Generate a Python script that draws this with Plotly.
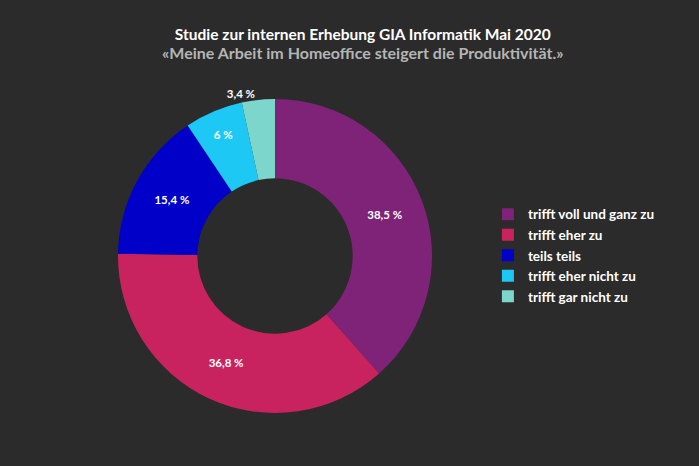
import plotly.graph_objects as go

categories = ["trifft voll und ganz zu", "trifft eher zu", "teils teils",
              "trifft eher nicht zu", "trifft gar nicht zu"]
values = [38.5, 36.8, 15.4, 6.0, 3.4]
value_labels = ["38,5 %", "36,8 %", "15,4 %", "6 %", "3,4 %"]
colors = ["#7e2378", "#c9235f", "#0000c8", "#1ec8f5", "#7dd6cb"]

title_text = "Studie zur internen Erhebung GIA Informatik Mai 2020"
subtitle_text = "«Meine Arbeit im Homeoffice steigert die Produktivität.»"

W, H = 699, 466
FONT = "Lato, 'Noto Sans', sans-serif"
BG = "#2b2b2b"

fig = go.Figure(go.Pie(
    labels=categories,
    values=values,
    text=value_labels,
    textinfo="text",
    textposition=["inside", "inside", "inside", "inside", "outside"],
    insidetextorientation="horizontal",
    hole=0.495,
    sort=False,
    direction="clockwise",
    rotation=0,
    marker=dict(colors=colors, line=dict(width=0)),
    textfont=dict(family=FONT, size=11.5, color="white", weight="bold"),
    outsidetextfont=dict(family=FONT, size=11.5, color="white", weight="bold"),
    domain=dict(x=[118 / W, 432 / W], y=[1 - 414 / H, 1 - 98 / H]),
    hoverinfo="label+text",
))

fig.update_layout(
    width=W, height=H,
    paper_bgcolor=BG,
    plot_bgcolor=BG,
    margin=dict(l=0, r=0, t=0, b=0),
    title=dict(
        text="<b>%s</b>" % title_text,
        x=0.519, xanchor="center", y=1 - 35 / H, yanchor="middle",
        font=dict(family=FONT, size=15.5, color="white"),
    ),
    annotations=[dict(
        text="<b>%s</b>" % subtitle_text,
        xref="paper", yref="paper", x=0.519, xanchor="center",
        y=1 - 53 / H, yanchor="middle", showarrow=False,
        font=dict(family=FONT, size=16, color="#b5b5b5"),
    )],
    legend=dict(
        x=0.698, xanchor="left", y=0.452, yanchor="middle",
        font=dict(family=FONT, size=13.5, color="white", weight="bold"),
        itemwidth=30, tracegroupgap=0,
        bgcolor="rgba(0,0,0,0)",
    ),
)

fig.write_html(
    "out.html",
    config={"displayModeBar": False},
    post_script="document.body.style.margin='0';document.body.style.background='%s';" % BG,
)
